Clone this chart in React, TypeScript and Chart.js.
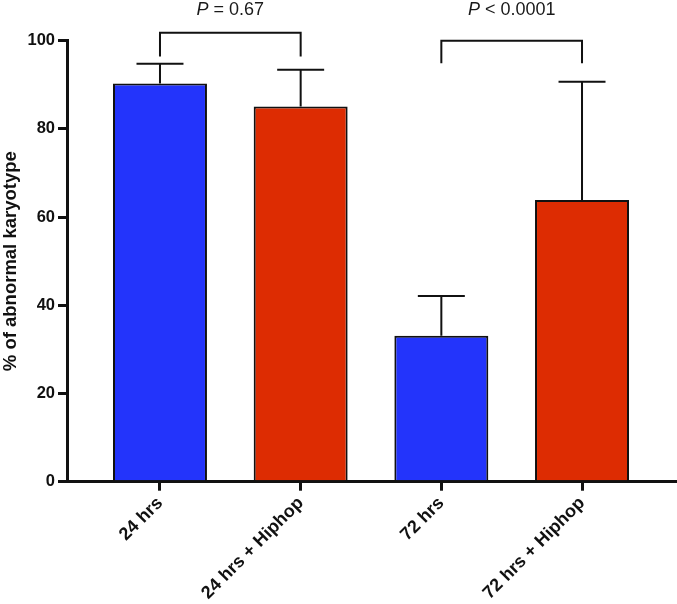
import React, { useEffect, useRef } from "react";
import { Chart, registerables } from "chart.js";

Chart.register(...registerables);

const categories = ["24 hrs", "24 hrs + Hiphop", "72 hrs", "72 hrs + Hiphop"];
const means = [90.3, 85.1, 33.1, 63.9];
const upperError = [94.8, 93.4, 42.1, 90.7];
const barColors = ["#2334fb", "#dd2c02", "#2334fb", "#dd2c02"];
const yTicks = [0, 20, 40, 60, 80, 100];

const bracketFrom = [0, 2];
const bracketTo = [1, 3];
const bracketTop = [101.8, 100];
const bracketLegEnd = [96.4, 94.9];
const pOperator = ["=", "<"];
const pValue = ["0.67", "0.0001"];

const FONT = '"Liberation Sans", Arial, Helvetica, sans-serif';

const overlayPlugin = {
  id: "overlay",
  afterDatasetsDraw(chart: any) {
    const ctx = chart.ctx;
    const x = chart.scales.x;
    const y = chart.scales.y;
    const meta = chart.getDatasetMeta(0);
    ctx.save();
    ctx.strokeStyle = "#111";
    ctx.lineWidth = 2;
    ctx.lineCap = "butt";
    means.forEach((m, i) => {
      const bar = meta.data[i];
      const cx = bar.x;
      const half = bar.width * 0.25;
      const yTop = y.getPixelForValue(m);
      const yErr = y.getPixelForValue(upperError[i]);
      ctx.beginPath();
      ctx.moveTo(cx, yTop);
      ctx.lineTo(cx, yErr);
      ctx.moveTo(cx - half, yErr);
      ctx.lineTo(cx + half, yErr);
      ctx.stroke();
    });
    bracketFrom.forEach((f, i) => {
      const x1 = x.getPixelForValue(f);
      const x2 = x.getPixelForValue(bracketTo[i]);
      const yt = y.getPixelForValue(bracketTop[i]);
      const yl = y.getPixelForValue(bracketLegEnd[i]);
      ctx.beginPath();
      ctx.moveTo(x1, yl);
      ctx.lineTo(x1, yt);
      ctx.lineTo(x2, yt);
      ctx.lineTo(x2, yl);
      ctx.stroke();
      const italic = "italic 18px " + FONT;
      const normal = "18px " + FONT;
      const rest = " " + pOperator[i] + " " + pValue[i];
      ctx.font = italic;
      const wP = ctx.measureText("P").width;
      ctx.font = normal;
      const wR = ctx.measureText(rest).width;
      const cx = (x1 + x2) / 2;
      const start = cx - (wP + wR) / 2;
      const baseY = chart.chartArea.top - 25.5;
      ctx.fillStyle = "#1a1a1a";
      ctx.textBaseline = "alphabetic";
      ctx.textAlign = "left";
      ctx.font = italic;
      ctx.fillText("P", start, baseY);
      ctx.font = normal;
      ctx.fillText(rest, start + wP, baseY);
    });
    ctx.restore();
  },
};

export default function App() {
  const ref = useRef<HTMLCanvasElement | null>(null);
  useEffect(() => {
    if (!ref.current) return;
    const chart = new Chart(ref.current, {
      type: "bar",
      data: {
        datasets: [
          {
            data: means.map((v, i) => ({ x: i, y: v })),
            backgroundColor: barColors,
            borderColor: "#111",
            borderWidth: 2,
            barPercentage: 0.668,
            categoryPercentage: 1,
          },
        ],
      },
      plugins: [overlayPlugin],
      options: {
        responsive: false,
        animation: false,
        layout: { padding: { top: 40.7, right: 2, left: 0, bottom: 0 } },
        plugins: { legend: { display: false }, tooltip: { enabled: false } },
        scales: {
          x: {
            type: "linear",
            min: -0.661,
            max: 3.661,
            offset: false,
            afterBuildTicks: (s: any) => {
              s.ticks = categories.map((_, i) => ({ value: i }));
            },
            afterFit: (s: any) => {
              s.height = 604 - 481.7;
            },
            ticks: {
              autoSkip: false,
              minRotation: 45,
              maxRotation: 45,
              padding: 2,
              color: "#111",
              font: { family: FONT, size: 18, weight: "bold" },
              callback: (v: any) => categories[v as number] ?? "",
            },
            grid: {
              display: true,
              offset: false,
              drawOnChartArea: false,
              drawTicks: true,
              tickLength: 9,
              color: "#111",
              lineWidth: 3,
            },
            border: { display: true, color: "#111", width: 3 },
          },
          y: {
            min: 0,
            max: 100,
            afterBuildTicks: (s: any) => {
              s.ticks = yTicks.map((v) => ({ value: v }));
            },
            afterFit: (s: any) => {
              s.width = 67;
            },
            ticks: {
              padding: 3,
              color: "#111",
              font: { family: FONT, size: 16.5, weight: "bold" },
            },
            grid: {
              display: true,
              drawOnChartArea: false,
              drawTicks: true,
              tickLength: 9,
              color: "#111",
              lineWidth: 3,
            },
            border: { display: true, color: "#111", width: 3 },
            title: {
              display: true,
              text: "% of abnormal karyotype",
              color: "#111",
              padding: { top: 0, bottom: 0 },
              font: { family: FONT, size: 18.5, weight: "bold" },
            },
          },
        },
      },
    } as any);
    return () => chart.destroy();
  }, []);
  return (
    <div style={{ position: "fixed", left: 0, top: 0, width: 677, height: 604, background: "#fff" }}>
      <canvas ref={ref} width={677} height={604} style={{ display: "block" }} />
    </div>
  );
}
